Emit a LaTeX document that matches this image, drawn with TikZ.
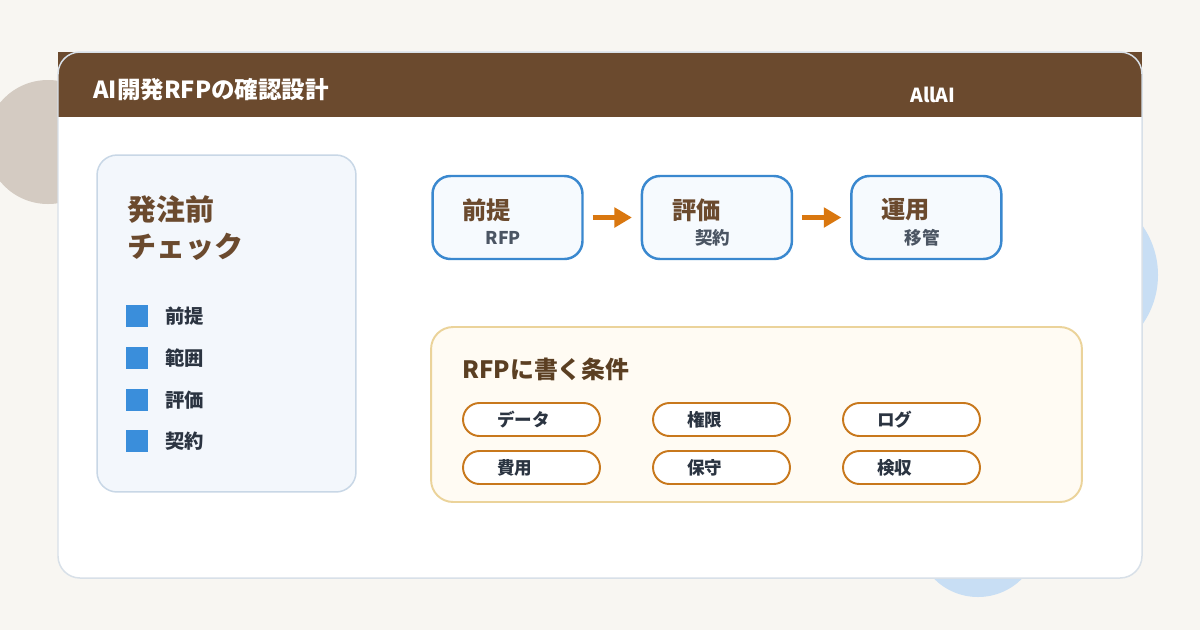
\documentclass[tikz,border=0pt]{standalone}
\usepackage{fontspec}
\setmainfont{Noto Sans CJK JP}
\usetikzlibrary{positioning, calc, arrows.meta}
\definecolor{paper}{HTML}{F8F6F2}
\definecolor{bark}{HTML}{6B4A2E}
\definecolor{stone}{HTML}{D4CBC2}
\definecolor{sky}{HTML}{C8DEF4}
\definecolor{cardEdge}{HTML}{D8E0E8}
\definecolor{panelFill}{HTML}{F3F7FC}
\definecolor{panelEdge}{HTML}{C8D7E6}
\definecolor{bullet}{HTML}{3A8EDB}
\definecolor{ink}{HTML}{2B3441}
\definecolor{flowEdge}{HTML}{3A88CF}
\definecolor{flowFill}{HTML}{F6FAFE}
\definecolor{subGray}{HTML}{4B5563}
\definecolor{amber}{HTML}{D9770F}
\definecolor{condFill}{HTML}{FFFBF3}
\definecolor{condEdge}{HTML}{EBD39A}
\definecolor{condInk}{HTML}{5B3F22}
\definecolor{pillEdge}{HTML}{C8781C}
\tikzstyle{flowArrow} = [line width=2.8pt, draw=amber, -{Triangle[length=10pt,width=11pt]}, shorten <=5pt, shorten >=5pt]
\tikzstyle{flowBox} = [rectangle, rounded corners=0.36cm, minimum width=3.0cm, minimum height=1.66cm, draw=flowEdge, line width=1.4pt, fill=flowFill]
\tikzstyle{flowTitle} = [anchor=west, inner sep=0pt, text=bark, font=\fontsize{13.8}{16}\selectfont\bfseries]
\tikzstyle{flowSub} = [anchor=west, inner sep=0pt, text=subGray, font=\fontsize{10}{12}\selectfont\bfseries]
\tikzstyle{panel} = [rectangle, rounded corners=0.4cm, minimum width=5.18cm, minimum height=6.74cm, draw=panelEdge, line width=0.85pt, fill=panelFill]
\tikzstyle{checkMark} = [rectangle, minimum size=0.44cm, inner sep=0pt, fill=bullet]
\tikzstyle{checkText} = [anchor=west, inner sep=0pt, text=ink, font=\fontsize{11}{13}\selectfont\bfseries]
\tikzstyle{condBox} = [rectangle, rounded corners=0.44cm, minimum width=13.02cm, minimum height=3.5cm, draw=condEdge, line width=1.1pt, fill=condFill]
\tikzstyle{pill} = [rectangle, rounded corners=0.33cm, minimum height=0.66cm, inner xsep=0.68cm, text width=1.38cm, align=left, draw=pillEdge, line width=1.1pt, fill=white, text=ink, font=\fontsize{10}{12}\selectfont\bfseries]

\begin{document}
\begin{tikzpicture}[x=0.02cm, y=-0.02cm]
\useasboundingbox (0,0) rectangle (1200,630);
\fill[paper] (0,0) rectangle (1200,630);
% backdrop circles
\fill[stone] (48,142) circle (62);
\fill[sky] (1072,275) circle (86);
\fill[sky] (978,535) circle (62);
% card and header
\fill[white, rounded corners=0.44cm] (58,52) rectangle (1142,578);
\fill[bark] (58,52) rectangle (1142,117);
\draw[cardEdge, line width=0.85pt, rounded corners=0.44cm] (58,52) rectangle (1142,578);
\node (title) [anchor=west, inner sep=0pt, text=white, font=\fontsize{13.4}{16}\selectfont\bfseries] at (93,90) {AI開発RFPの確認設計};
\node (brand) [anchor=west, inner sep=0pt, text=white, font=\fontsize{11}{13}\selectfont\bfseries] at (910,95) {AllAI};

% left check panel
\node (checkPanel) [panel] at (226.5,323.5) {};
\node (checkHead) [anchor=west, align=left, inner sep=0pt, text=bark, font=\fontsize{16.5}{21}\selectfont\bfseries] at (127,228.5) {発注前\\チェック};
\node (mark1) [checkMark] at (137,316) {};
\node (mark2) [checkMark] at (137,358) {};
\node (mark3) [checkMark] at (137,400) {};
\node (mark4) [checkMark] at (137,441) {};
\node (item1) [checkText] at (165,316) {前提};
\node (item2) [checkText] at (165,358) {範囲};
\node (item3) [checkText] at (165,400) {評価};
\node (item4) [checkText] at (165,441) {契約};

% flow
\node (premise) [flowBox] at (507.5,217.5) {};
\node (review) [flowBox, right=1.14cm of premise] {};
\node (operate) [flowBox, right=1.14cm of review] {};
\node (premiseT) [flowTitle] at ($(premise.west)+(31,-7.5)$) {前提};
\node (premiseS) [flowSub] at ($(premise.west)+(54,20.5)$) {RFP};
\node (reviewT) [flowTitle] at ($(review.west)+(31,-7.5)$) {評価};
\node (reviewS) [flowSub] at ($(review.west)+(54,20.5)$) {契約};
\node (operateT) [flowTitle] at ($(operate.west)+(31,-7.5)$) {運用};
\node (operateS) [flowSub] at ($(operate.west)+(54,20.5)$) {移管};
\draw [flowArrow] (premise) -- (review);
\draw [flowArrow] (review) -- (operate);

% conditions
\node (cond) [condBox] at (756.5,414.5) {};
\node (condHead) [anchor=west, inner sep=0pt, text=condInk, font=\fontsize{13.6}{16}\selectfont\bfseries] at (462,369) {RFPに書く条件};
\node (data) [pill] at (531.5,419.5) {データ};
\node (rights) [pill] at (721.5,419.5) {権限};
\node (logs) [pill] at (911.5,419.5) {ログ};
\node (cost) [pill] at (531.5,467.5) {費用};
\node (upkeep) [pill] at (721.5,467.5) {保守};
\node (accept) [pill] at (911.5,467.5) {検収};
\end{tikzpicture}
\end{document}
